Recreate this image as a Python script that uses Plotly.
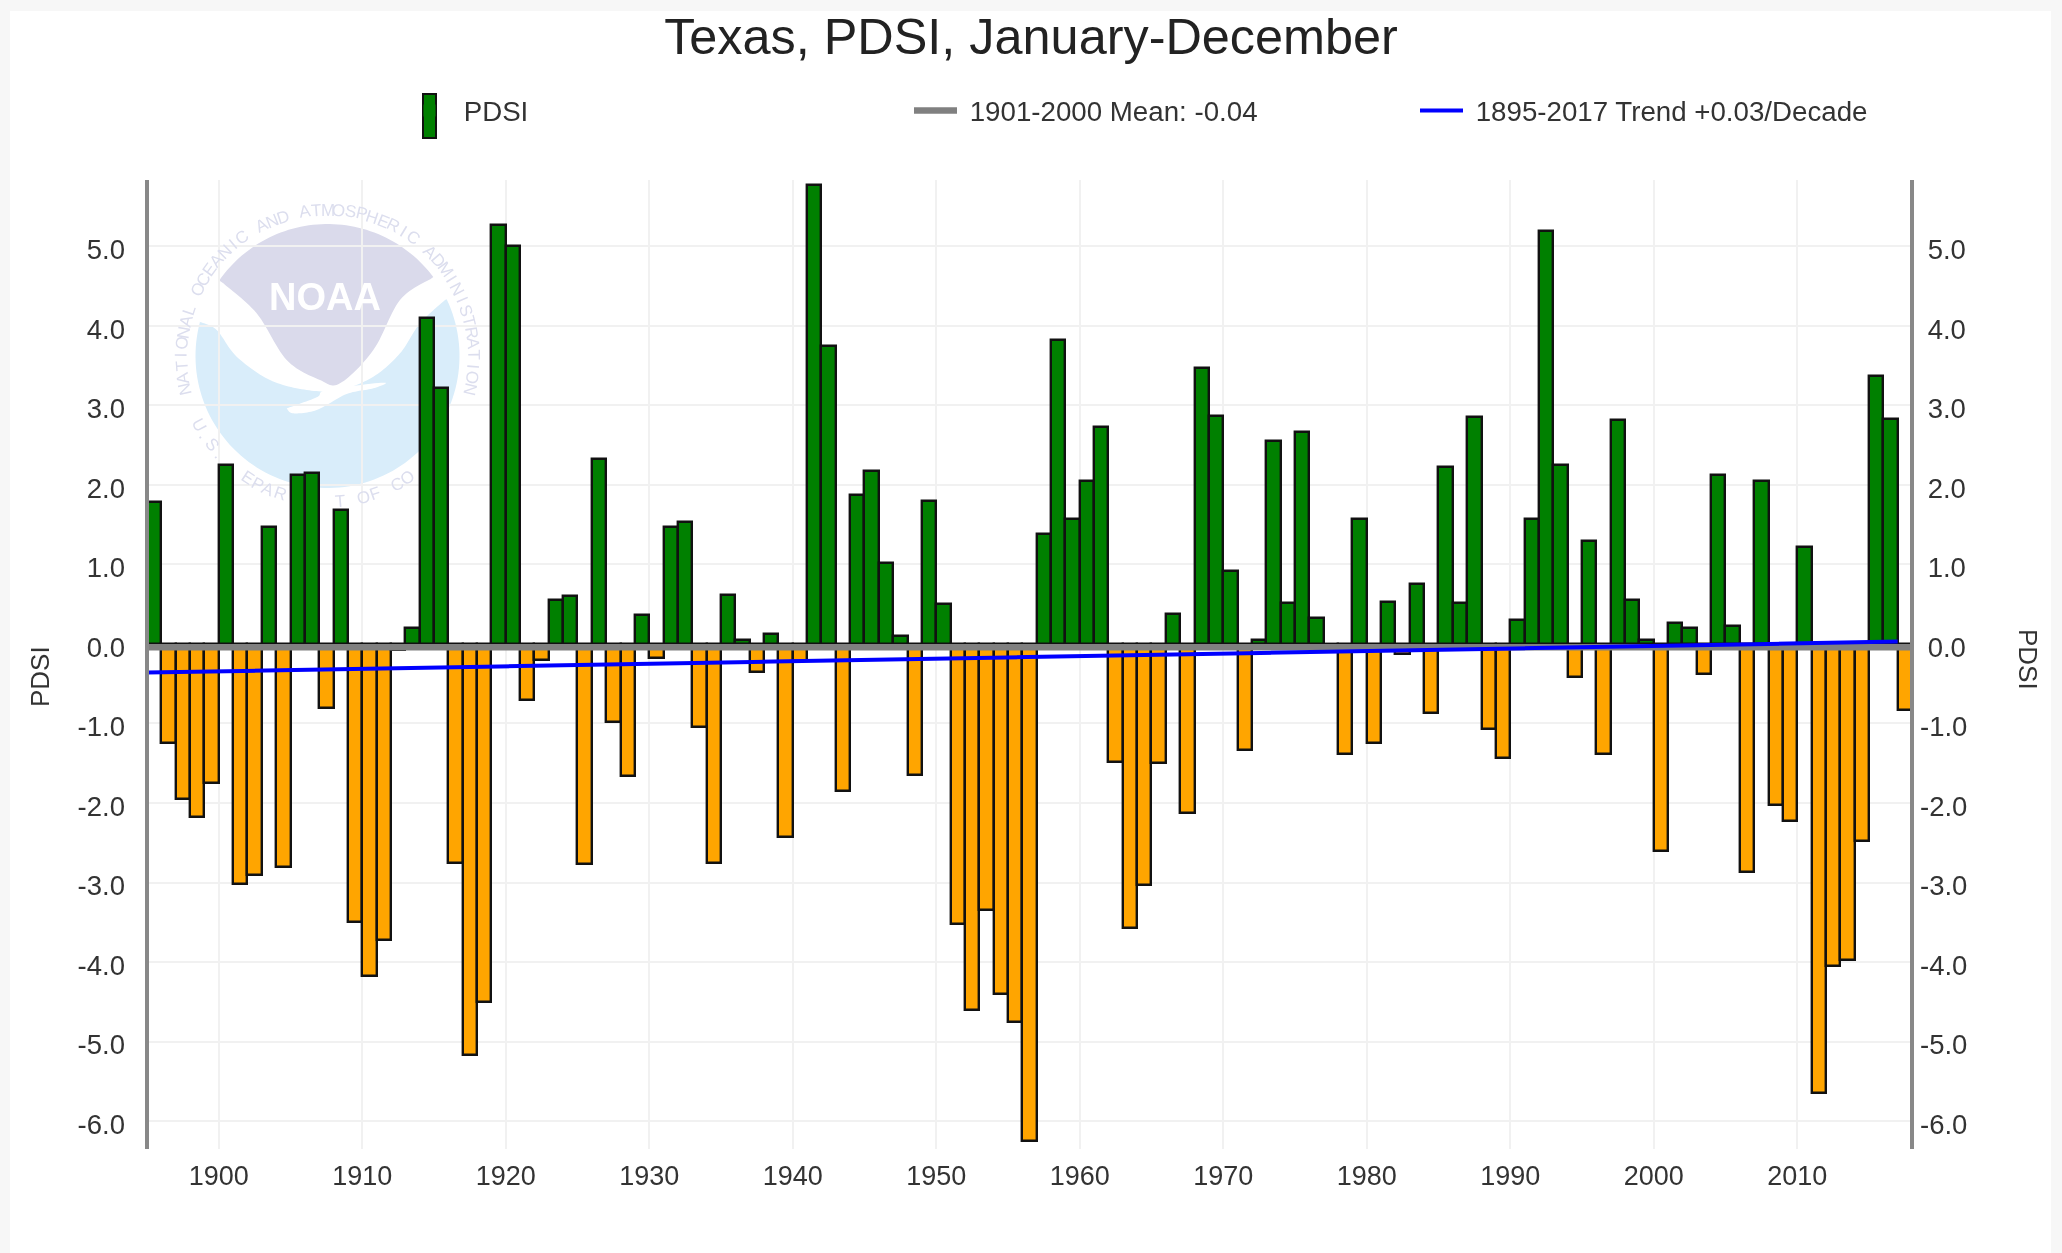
import math
import plotly.graph_objects as go

FIRST_YEAR = 1895
pdsi = [
    1.78, -1.25, -1.95, -2.17, -1.75,            # 1895-1899
    2.25, -3.02, -2.90, 1.47, -2.80, 2.13, 2.15, -0.80, 1.68, -3.50,   # 1900s
    -4.17, -3.72, -0.07, 0.20, 4.10, 3.22, -2.75, -5.17, -4.50, 5.27,  # 1910s
    5.00, -0.70, -0.20, 0.55, 0.60, -2.77, 2.33, -0.98, -1.66, 0.36,   # 1920s
    -0.18, 1.47, 1.53, -1.05, -2.75, 0.62, 0.05, -0.35, 0.12, -2.43,   # 1930s
    -0.22, 5.77, 3.75, -1.85, 1.87, 2.17, 1.02, 0.10, -1.65, 1.80,     # 1940s
    0.50, -3.52, -4.60, -3.35, -4.40, -4.75, -6.25, 1.38, 3.82, 1.57,  # 1950s
    2.05, 2.73, -1.48, -3.57, -3.03, -1.50, 0.38, -2.12, 3.47, 2.87,   # 1960s
    0.92, -1.33, 0.05, 2.55, 0.52, 2.67, 0.33, -0.02, -1.38, 1.57,     # 1970s
    -1.25, 0.53, -0.12, 0.75, -0.87, 2.22, 0.52, 2.85, -1.07, -1.43,   # 1980s
    0.30, 1.57, 5.20, 2.25, -0.42, 1.30, -1.38, 2.82, 0.55, 0.05,      # 1990s
    -2.60, 0.27, 0.20, -0.38, 2.13, 0.23, -2.87, 2.05, -2.03, -2.23,   # 2000s
    1.22, -5.65, -4.05, -3.97, -2.48, 3.37, 2.83, -0.83,               # 2010-2017
]
years = [FIRST_YEAR + i for i in range(len(pdsi))]
mean_x = [1895, 2018]
mean_y = [-0.04, -0.04]
trend_x = [1895, 2017]
trend_y = [-0.36, 0.03]
y_ticks = [5, 4, 3, 2, 1, 0, -1, -2, -3, -4, -5, -6]
y_labels = ["5.0", "4.0", "3.0", "2.0", "1.0", "0.0", "-1.0", "-2.0", "-3.0", "-4.0", "-5.0", "-6.0"]
x_ticks = [1900, 1910, 1920, 1930, 1940, 1950, 1960, 1970, 1980, 1990, 2000, 2010]
TITLE = "Texas, PDSI, January-December"

GREEN, ORANGE = "#008000", "#ffa500"
W, H = 2062, 1253
L, R, T, B = 147, 1912, 180, 1149
Y_RANGE = [-6.352, 5.836]
X_RANGE = [1895, 2018]
FONT = "Liberation Sans, Arial, sans-serif"
TXT = "#333333"


def px(x, y):
    """Page pixel to Plotly paper coordinates (relative to the plot area)."""
    return (x - L) / (R - L), 1 - (y - T) / (B - T)


def path(points, close=True):
    s = ""
    for i, (x, y) in enumerate(points):
        fx, fy = px(x, y)
        s += ("M" if i == 0 else "L") + f"{fx:.5f},{fy:.5f} "
    return s + ("Z" if close else "")


def zoomed(zx, zy):
    return 160 + zx / 3, 190 + zy / 3


def smooth(ctrl, n=14):
    """Catmull-Rom through logo outline points (zoom coordinates)."""
    out = []
    p = [ctrl[0]] + ctrl + [ctrl[-1]]
    for i in range(1, len(p) - 2):
        for k in range(n):
            t = k / n
            c = []
            for d in (0, 1):
                a, b, e, f = p[i - 1][d], p[i][d], p[i + 1][d], p[i + 2][d]
                c.append(0.5 * (2 * b + (e - a) * t + (2 * a - 5 * b + 4 * e - f) * t * t + (3 * b - a - 3 * e + f) * t ** 3))
            out.append(zoomed(*c))
    out.append(zoomed(*ctrl[-1]))
    return out


CX, CY, RAD = 327.5, 356.0, 132.0


def arc(a0, a1, n=60, r=RAD):
    return [(CX + r * math.cos(math.radians(a0 + (a1 - a0) * i / n)),
             CY + r * math.sin(math.radians(a0 + (a1 - a0) * i / n))) for i in range(n + 1)]


def ang(zx, zy):
    x, y = zoomed(zx, zy)
    return math.degrees(math.atan2(y - CY, x - CX))


cx0, cy0 = px(10, 11)
cx1, cy1 = px(2051, H)
shapes = [dict(type="rect", xref="paper", yref="paper", x0=cx0, x1=cx1, y0=cy1, y1=cy0,
               fillcolor="#ffffff", line_width=0, layer="below")]

# NOAA logo watermark
blue_top = smooth([(118, 395), (170, 420), (230, 500), (330, 570), (440, 600), (540, 600),
                   (640, 560), (720, 490), (780, 400), (855, 330)])
a_r, a_l = ang(855, 330), ang(118, 395) + 360
blue = blue_top + arc(a_r, a_l, 100)
shapes.append(dict(type="path", xref="paper", yref="paper", path=path(blue),
                   fillcolor="#d9edfa", line_width=0, layer="below"))
lav_low = smooth([(815, 265), (720, 330), (640, 480), (540, 580), (480, 570), (380, 510), (290, 370), (190, 280)])
a_a, a_b = ang(190, 280), ang(815, 265)
lav = lav_low + arc(a_a, a_b, 60)
shapes.append(dict(type="path", xref="paper", yref="paper", path=path(lav),
                   fillcolor="#dadaeb", line_width=0, layer="below"))
wing = smooth([(380, 655), (470, 622), (500, 600), (670, 578), (640, 595), (560, 612), (470, 660), (400, 670), (380, 655)])
shapes.append(dict(type="path", xref="paper", yref="paper", path=path(wing),
                   fillcolor="#ffffff", line_width=0, layer="below"))

# PDSI legend key drawn to the reference's tall proportions
gx0, gy0 = px(423, 94)
gx1, gy1 = px(436, 138)
shapes.append(dict(type="rect", xref="paper", yref="paper", x0=gx0, x1=gx1, y0=gy1, y1=gy0,
                   fillcolor=GREEN, line=dict(color="#111111", width=2), layer="above"))
# Axis lines, centred on the plot edges and above the bars
for xv in (0, 1):
    shapes.append(dict(type="line", xref="paper", yref="paper", x0=xv, x1=xv, y0=0, y1=1,
                       line=dict(color="#888888", width=4), layer="above"))


def hits_bar(cx, cy):
    yr = FIRST_YEAR + (cx - L) / ((R - L) / 123)
    val = (644 - cy) / 79.5
    for d in (-0.6, 0, 0.6):
        i = int(math.floor(yr + d - FIRST_YEAR))
        if 0 <= i < len(pdsi) and pdsi[i] > val - 0.1:
            return True
    return False


def note(text, x, y, size, color, angle=0):
    fx, fy = px(x, y)
    return dict(text=text, x=fx, y=fy, xref="paper", yref="paper", showarrow=False, textangle=angle,
                xanchor="center", yanchor="middle", font=dict(family=FONT, size=size, color=color))


annotations = []
RING = "#dcdeee"
top_text = "NATIONAL OCEANIC AND ATMOSPHERIC ADMINISTRATION"
a0, a1 = 167.0, 373.0
for i, ch in enumerate(top_text):
    a = a0 + (a1 - a0) * i / (len(top_text) - 1)
    cx = CX + 146 * math.cos(math.radians(a))
    cy = CY + 146 * math.sin(math.radians(a))
    if ch != " " and not hits_bar(cx, cy):
        annotations.append(note(ch, cx, cy, 17, RING, a + 90))
bot_text = "U.S. DEPARTMENT OF COMMERCE"
a0, a1 = 152.0, 28.0
for i, ch in enumerate(bot_text):
    a = a0 + (a1 - a0) * i / (len(bot_text) - 1)
    cx = CX + 146 * math.cos(math.radians(a))
    cy = CY + 146 * math.sin(math.radians(a))
    if ch != " " and not hits_bar(cx, cy):
        annotations.append(note(ch, cx, cy, 17, RING, a - 90))

annotations.append(note("<b>NOAA</b>", 325, 297, 38, "#ffffff"))
annotations.append(note("PDSI", 40, 677, 26, TXT, -90))
annotations.append(note("PDSI", 2028, 659, 26, TXT, 90))

fig = go.Figure()
fig.add_trace(go.Bar(
    x=years, y=pdsi, name="PDSI", width=1, offset=0, showlegend=False,
    marker=dict(color=[GREEN if v >= 0 else ORANGE for v in pdsi], line=dict(color="#111111", width=2.4)),
))
# Legend entry for the bars, without the black outline that would show inside the tall key
fig.add_trace(go.Bar(x=[None], y=[None], name="\u00a0PDSI", marker=dict(color=GREEN, line=dict(width=0))))
fig.add_trace(go.Scatter(x=mean_x, y=mean_y, mode="lines", name="\u00a01901-2000 Mean: -0.04",
                         line=dict(color="#808080", width=6.5), yaxis="y2"))
fig.add_trace(go.Scatter(x=trend_x, y=trend_y, mode="lines", name="\u00a01895-2017 Trend +0.03/Decade",
                         line=dict(color="#0000ff", width=4), yaxis="y2"))

lx, ly = px(403, 111)
fig.update_layout(
    width=W, height=H, autosize=False,
    margin=dict(l=L, r=W - R, t=T, b=H - B, autoexpand=False),
    paper_bgcolor="#f7f7f7", plot_bgcolor="rgba(0,0,0,0)",
    font=dict(family=FONT, size=27, color=TXT),
    bargap=0,
    title=dict(text=TITLE, x=1031 / W, xanchor="center", y=1 - 36 / H, yanchor="middle",
               font=dict(family=FONT, size=50.4, color="#222222")),
    showlegend=True,
    legend=dict(orientation="h", x=lx, xanchor="left", y=ly, yanchor="middle",
                entrywidth=448, entrywidthmode="pixels", itemwidth=43, bgcolor="rgba(0,0,0,0)",
                font=dict(family=FONT, size=27.7, color=TXT), itemclick=False, itemdoubleclick=False),
    xaxis=dict(range=X_RANGE, tickmode="array", tickvals=x_ticks, ticktext=[str(v) for v in x_ticks],
               showgrid=True, gridcolor="#f1f1f1", gridwidth=2, zeroline=False, showline=False,
               ticks="", ticklabelstandoff=8, tickfont=dict(size=27, color=TXT)),
    yaxis=dict(range=Y_RANGE, tickmode="array", tickvals=y_ticks, ticktext=y_labels,
               showgrid=True, gridcolor="#f1f1f1", gridwidth=2, zeroline=False,
               showline=False, ticks="", ticklabelstandoff=21,
               tickfont=dict(size=27.5, color=TXT)),
    yaxis2=dict(range=Y_RANGE, overlaying="y", side="right", tickmode="array", tickvals=y_ticks,
                ticktext=[("\u00a0" + s) if not s.startswith("-") else s for s in y_labels],
                showgrid=False, zeroline=False, showline=False, ticks="",
                ticklabelstandoff=7, tickfont=dict(size=27.5, color=TXT)),
    shapes=shapes,
    annotations=annotations,
)

fig.write_html(
    "out.html",
    config=dict(displayModeBar=False),
    post_script="document.body.style.margin='0';document.body.style.overflow='hidden';"
                "document.querySelector('.plotly-graph-div').style.filter='blur(0.7px)';"
                "document.querySelectorAll('.ytick text, .y2tick text').forEach(function(t){t.setAttribute('dy','3');});",
)
